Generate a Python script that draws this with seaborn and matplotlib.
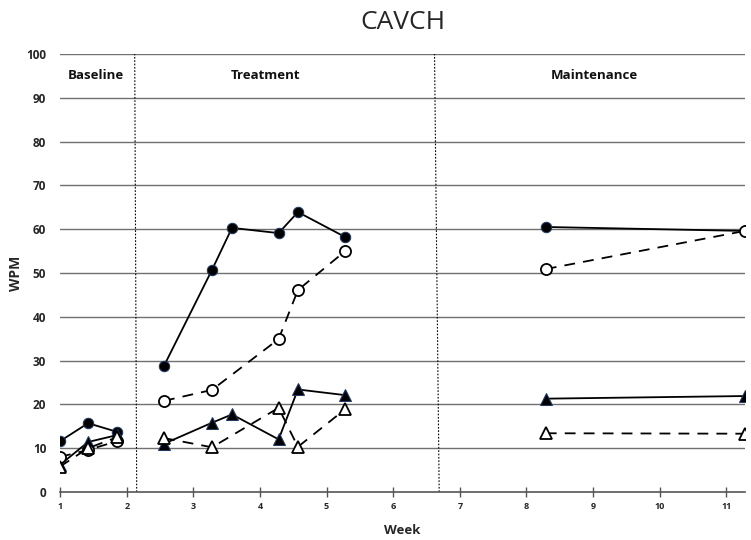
import matplotlib
matplotlib.use("Agg")
import matplotlib.pyplot as plt
import seaborn as sns
import pandas as pd

# Weeks at which probes were taken, per phase
base_weeks = [1.0, 1.42, 1.86]
treat_weeks = [2.56, 3.28, 3.58, 4.28, 4.57, 5.28]
maint_weeks = [8.29, 11.28]

# WPM per series and phase (None = no probe)
filled_circle = {
    "base": [11.6, 15.7, 13.7],
    "treat": [28.8, 50.7, 60.3, 59.1, 63.9, 58.2],
    "maint": [60.5, 59.6],
}
open_circle = {
    "base": [8.0, 9.6, 11.6],
    "treat": [20.8, 23.3, None, 34.9, 46.1, 55.0],
    "maint": [50.9, 59.6],
}
filled_triangle = {
    "base": [6.2, 11.4, 13.0],
    "treat": [11.0, 15.8, 17.7, 12.0, 23.4, 22.1],
    "maint": [21.3, 21.9],
}
open_triangle = {
    "base": [5.8, 10.0, 12.5],
    "treat": [12.3, 10.2, None, 19.2, 10.3, 18.9],
    "maint": [13.4, 13.3],
}

phase_labels = ["Baseline", "Treatment", "Maintenance"]
phase_label_x = [1.54, 4.09, 9.02]
phase_line_top = [2.12, 6.62]
phase_line_bottom = [2.15, 6.69]

x_ticks = list(range(1, 12))
y_ticks = list(range(0, 101, 10))

sns.set_theme(style="white")
plt.rcParams["font.family"] = ["Open Sans", "DejaVu Sans"]

fig = plt.figure(figsize=(7.51, 5.40), dpi=100)
ax = fig.add_axes([0.080, 0.089, 0.912, 0.811])

# horizontal gridlines
for yv in y_ticks[1:]:
    ax.axhline(yv, color="#707070", linewidth=1.0, zorder=1)

# phase change lines
for xt, xb in zip(phase_line_top, phase_line_bottom):
    ax.plot([xb, xt], [0, 100], color="black", linestyle=(0, (1.5, 1.5)),
            linewidth=0.8, zorder=2)

phase_weeks = {"base": base_weeks, "treat": treat_weeks, "maint": maint_weeks}

styles = [
    (filled_circle, dict(marker="o", markersize=7.5, markerfacecolor="black",
                         markeredgecolor="#1f3864", linestyle="-")),
    (filled_triangle, dict(marker="^", markersize=8.5, markerfacecolor="black",
                           markeredgecolor="#1f3864", linestyle="-")),
    (open_circle, dict(marker="o", markersize=8, markerfacecolor="white",
                       markeredgecolor="black", markeredgewidth=1.3,
                       linestyle=(0, (6, 4.5)))),
    (open_triangle, dict(marker="^", markersize=9, markerfacecolor="white",
                         markeredgecolor="black", markeredgewidth=1.3,
                         linestyle=(0, (6, 4.5)))),
]

z = 3
for series, kw in styles:
    for phase, weeks in phase_weeks.items():
        df = pd.DataFrame({"week": weeks,
                           "wpm": pd.to_numeric(pd.Series(series[phase]), errors="coerce")})
        df = df.dropna()
        sns.lineplot(data=df, x="week", y="wpm", ax=ax, color="black",
                     linewidth=1.3, estimator=None, sort=False, zorder=z, **kw)
    z += 1

for label, lx in zip(phase_labels, phase_label_x):
    ax.text(lx, 95, label, ha="center", va="center", fontsize=9.5,
            fontweight="bold", color="#111111")

ax.set_xlim(1, 11.28)
ax.set_ylim(0, 100)
ax.set_xticks(x_ticks)
ax.set_yticks(y_ticks)
ax.set_xticklabels([str(t) for t in x_ticks], fontsize=6.5, fontweight="bold")
ax.set_yticklabels([str(t) for t in y_ticks], fontsize=8.5, fontweight="bold")
ax.tick_params(axis="y", left=False, length=0, pad=10)
ax.tick_params(axis="x", bottom=True, direction="inout", length=7, width=1.0,
               color="#555555", pad=4)

for side in ["left", "right", "top"]:
    ax.spines[side].set_visible(False)
ax.spines["bottom"].set_color("#555555")
ax.spines["bottom"].set_linewidth(1.2)

ax.set_xlabel("Week", fontsize=9.5, fontweight="bold", labelpad=9)
ax.set_ylabel("WPM", fontsize=10, fontweight="bold", labelpad=2)
ax.set_title("CAVCH", fontsize=19, pad=18)

fig.savefig("out.png", dpi=100)
plt.close(fig)
